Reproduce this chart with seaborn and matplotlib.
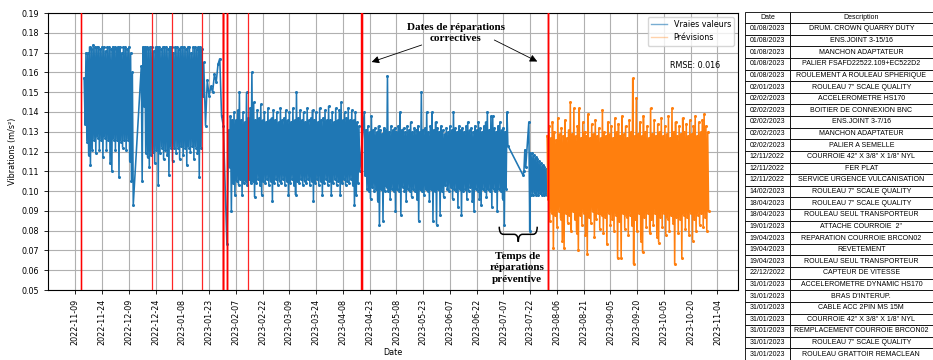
import numpy as np
import pandas as pd
import matplotlib
matplotlib.use("Agg")
import matplotlib.pyplot as plt
import matplotlib.dates as mdates
from matplotlib.lines import Line2D
from matplotlib.path import Path
from matplotlib.patches import PathPatch
from matplotlib import font_manager as fm
import seaborn as sns

# ---------------- data (vibration values in milli m/s^2) -------------
# segments sampled every 12 h (alternating high / low readings of the day)
seg1_start = "2022-11-14"
seg1 = [157, 134, 170, 125, 170, 118, 173, 113, 172, 121, 174, 126, 173, 119, 173, 127,
        173, 121, 172, 126, 173, 117, 173, 127, 171, 121, 173, 126, 173, 114, 172, 110,
        173, 126, 173, 121, 172, 126, 173, 107, 173, 125, 170, 122, 173, 126, 173, 121,
        172, 126, 173, 115, 170, 105, 160, 93]

seg2_start = "2022-12-16"
seg2 = [163, 105, 173, 143, 173, 119, 173, 117, 172, 112, 173, 118, 173, 120, 171, 114,
        173, 121, 173, 103, 173, 119, 172, 122, 173, 116, 173, 121, 173, 118, 172, 108,
        173, 122, 173, 115, 170, 122, 173, 119, 173, 122, 172, 116, 173, 123, 173, 118,
        173, 122, 172, 113, 173, 122, 173, 120, 170, 123, 173, 116, 173, 122, 172, 119,
        173, 107, 173, 122, 172, 148]

seg3_dates = ["2023-01-20", "2023-01-21", "2023-01-22", "2023-01-23", "2023-01-24",
              "2023-01-25", "2023-01-26", "2023-01-27", "2023-01-28", "2023-01-29",
              "2023-01-30", "2023-01-31", "2023-02-02"]
seg3 = [165, 133, 156, 148, 153, 150, 159, 155, 164, 167, 138, 133, 73]

seg4_start = "2023-02-03"
seg4 = [131, 112, 138, 90, 136, 104, 140, 98, 136, 105, 141, 103, 150, 106, 136, 98,
        140, 104, 135, 105, 150, 103, 137, 106, 142, 104, 160, 105, 145, 97, 136, 104,
        141, 106, 137, 103, 144, 98, 136, 105, 140, 104, 135, 106, 142, 103, 136, 105,
        137, 95, 141, 104, 136, 106, 140, 103, 135, 105, 142, 104, 136, 106, 137, 103,
        141, 105, 136, 98, 140, 104, 135, 106, 142, 103, 136, 98, 150, 105, 137, 104,
        141, 106, 136, 103, 140, 105, 135, 104, 142, 106, 136, 103, 137, 105, 141, 95,
        136, 104, 140, 106, 135, 103, 142, 105, 136, 98, 137, 104, 141, 106, 136, 103,
        143, 105, 136, 98, 140, 104, 135, 106, 142, 103, 136, 105, 141, 98, 145, 104,
        136, 106, 140, 103, 137, 105, 142, 104, 136, 106, 141, 103, 136, 93, 140, 98,
        135, 104, 133, 110]

seg5_start = "2023-04-20"
seg5 = [140, 108, 131, 101, 133, 100, 130, 96, 138, 102, 131, 100, 132, 101, 130, 95,
        133, 83, 131, 101, 129, 85, 132, 100, 131, 102, 158, 100, 130, 96, 133, 101,
        131, 100, 132, 90, 130, 101, 133, 100, 140, 88, 131, 102, 132, 100, 130, 95,
        133, 101, 131, 100, 135, 97, 130, 101, 132, 100, 131, 96, 133, 85, 130, 101,
        150, 100, 131, 98, 132, 101, 140, 100, 130, 95, 133, 101, 140, 85, 131, 100,
        135, 83, 132, 101, 130, 88, 133, 100, 131, 97, 129, 103]

seg6_start = "2023-06-05"
seg6 = [132, 101, 130, 100, 133, 102, 131, 96, 140, 101, 132, 100, 130, 92, 133, 101,
        131, 88, 132, 100, 130, 101, 133, 96, 135, 100, 131, 102, 132, 95, 130, 90,
        133, 101, 131, 100, 135, 96, 132, 93, 130, 101, 133, 100, 135, 97, 140, 101,
        131, 100, 138, 92, 138, 101, 132, 100, 130, 90, 133, 101, 135, 100, 131, 96,
        132, 83, 130, 101, 140, 123]

gap_dates = ["2023-07-18 00:00", "2023-07-18 12:00", "2023-07-19 00:00",
             "2023-07-19 12:00", "2023-07-21 06:00", "2023-07-21 18:00"]
gap_vals = [108, 110, 121, 112, 135, 80]

seg7_start = "2023-07-22"
seg7 = [119, 98, 119, 98, 118, 99, 117, 98, 116, 98, 115, 99, 114, 98, 113, 98,
        112, 99, 111, 98]

fc_start = "2023-07-31 12:00"
forecast = [128, 96, 133, 85, 127, 89, 135, 71, 130, 88, 126, 82, 137, 90, 129, 86,
            132, 75, 128, 71, 136, 89, 127, 84, 131, 88, 145, 80, 129, 90, 142, 86,
            128, 79, 133, 70, 142, 88, 127, 83, 135, 89, 130, 78, 128, 68, 139, 87,
            127, 84, 134, 90, 129, 77, 136, 86, 128, 89, 132, 81, 127, 88, 141, 79,
            130, 87, 128, 73, 135, 89, 129, 83, 133, 86, 127, 80, 137, 88, 130, 66,
            134, 85, 128, 66, 138, 89, 129, 81, 133, 87, 127, 78, 136, 88, 130, 83,
            157, 63, 128, 86, 147, 80, 129, 89, 135, 75, 128, 69, 138, 87, 130, 82,
            133, 89, 127, 79, 142, 86, 129, 83, 136, 89, 128, 77, 134, 74, 130, 87,
            137, 82, 128, 89, 133, 78, 129, 86, 138, 80, 127, 88, 142, 84, 130, 63,
            135, 87, 128, 79, 133, 86, 129, 66, 137, 88, 130, 81, 134, 87, 128, 78,
            136, 89, 129, 75, 133, 86, 138, 80, 128, 88, 135, 83, 130, 89, 136, 82,
            139, 87, 133, 80, 130, 90]

# repair table
repair_dates = ["01/08/2023", "01/08/2023", "01/08/2023", "01/08/2023", "01/08/2023",
                "02/01/2023", "02/02/2023", "02/02/2023", "02/02/2023", "02/02/2023",
                "02/02/2023", "12/11/2022", "12/11/2022", "12/11/2022", "14/02/2023",
                "18/04/2023", "18/04/2023", "19/01/2023", "19/04/2023", "19/04/2023",
                "19/04/2023", "22/12/2022", "31/01/2023", "31/01/2023", "31/01/2023",
                "31/01/2023", "31/01/2023", "31/01/2023", "31/01/2023"]
repair_desc = ["DRUM. CROWN QUARRY DUTY", "ENS.JOINT 3-15/16", "MANCHON ADAPTATEUR",
               "PALIER FSAFD22522.109+EC522D2", "ROULEMENT A ROULEAU SPHERIQUE",
               "ROULEAU 7\" SCALE QUALITY", "ACCELEROMETRE HS170", "BOITIER DE CONNEXION BNC",
               "ENS.JOINT 3-7/16", "MANCHON ADAPTATEUR", "PALIER A SEMELLE",
               "COURROIE 42\" X 3/8\" X 1/8\" NYL", "FER PLAT", "SERVICE URGENCE VULCANISATION",
               "ROULEAU 7\" SCALE QUALITY", "ROULEAU 7\" SCALE QUALITY",
               "ROULEAU SEUL TRANSPORTEUR", "ATTACHE COURROIE  2\"",
               "REPARATION COURROIE BRCON02", "REVETEMENT", "ROULEAU SEUL TRANSPORTEUR",
               "CAPTEUR DE VITESSE", "ACCELEROMETRE DYNAMIC HS170", "BRAS D'INTERUP.",
               "CABLE ACC 2PIN MS 15M", "COURROIE 42\" X 3/8\" X 1/8\" NYL",
               "REMPLACEMENT COURROIE BRCON02", "ROULEAU 7\" SCALE QUALITY",
               "ROULEAU GRATTOIR REMACLEAN"]

rmse_text = "RMSE: 0.016"
tick_start, tick_end = "2022-11-09", "2023-11-04"

# ---------------- build frames ----------------
def reg(start, vals):
    return pd.DataFrame({"date": pd.date_range(start, periods=len(vals), freq="12h"),
                         "val": np.array(vals) / 1000.0})

def irr(dates, vals):
    return pd.DataFrame({"date": pd.to_datetime(dates), "val": np.array(vals) / 1000.0})

actual = pd.concat([reg(seg1_start, seg1), reg(seg2_start, seg2), irr(seg3_dates, seg3),
                    reg(seg4_start, seg4), reg(seg5_start, seg5), reg(seg6_start, seg6),
                    irr(gap_dates, gap_vals), reg(seg7_start, seg7)], ignore_index=True)
pred = reg(fc_start, forecast)

BLUE = "#1f77b4"
ORANGE = "#ff7f0e"
FS = 5.8

fig = plt.figure(figsize=(9.33, 3.6), dpi=100)
ax = fig.add_axes([48 / 933, 70 / 360, 690 / 933, 277 / 360])

sns.lineplot(data=actual, x="date", y="val", ax=ax, color=BLUE, lw=1.15, marker="o",
             markersize=2.2, markeredgewidth=0, estimator=None, sort=False, legend=False,
             solid_joinstyle="miter")
sns.lineplot(data=pred, x="date", y="val", ax=ax, color=ORANGE, lw=1.15, marker="o",
             markersize=2.2, markeredgewidth=0, estimator=None, sort=False, legend=False,
             solid_joinstyle="miter")

for d in pd.to_datetime(repair_dates, dayfirst=True):
    ax.axvline(d, color="red", lw=0.9, alpha=0.85, zorder=3)

ax.set_ylim(0.05, 0.19)
ax.set_yticks(np.arange(0.05, 0.1901, 0.01))
ax.yaxis.set_major_formatter(matplotlib.ticker.FormatStrFormatter("%.2f"))
ax.set_xlim(pd.Timestamp("2022-10-24 17:00"), pd.Timestamp("2023-11-15 12:00"))
ax.set_xticks(pd.date_range(tick_start, tick_end, freq="15D"))
ax.xaxis.set_major_formatter(mdates.DateFormatter("%Y-%m-%d"))
ax.tick_params(axis="x", labelrotation=90, labelsize=FS, length=3, width=0.6)
ax.tick_params(axis="y", labelsize=FS, length=3, width=0.6)
ax.grid(True, color="#b0b0b0", lw=0.8)
ax.set_axisbelow(True)
ax.set_xlabel("Date", fontsize=FS, labelpad=2)
ax.set_ylabel("Vibrations (m/s²)", fontsize=FS, labelpad=3)
for s in ax.spines.values():
    s.set_linewidth(0.8)

handles = [Line2D([], [], color=BLUE, lw=1, alpha=0.6),
           Line2D([], [], color=ORANGE, lw=1, alpha=0.35)]
ax.legend(handles, ["Vraies valeurs", "Prévisions"], loc="upper right", fontsize=FS,
          framealpha=0.8, borderaxespad=0.5)

ax.text(0.901, 0.812, rmse_text, transform=ax.transAxes, fontsize=FS, va="center", ha="left")

serif = dict(family=["Liberation Serif", "DejaVu Serif"], weight="bold", fontsize=8)
ax.text(0.591, 0.928, "Dates de réparations\ncorrectives", transform=ax.transAxes,
        ha="center", va="center", linespacing=1.2, **serif)
arr = dict(arrowstyle="-|>", color="black", lw=0.6, mutation_scale=11, shrinkA=0, shrinkB=0)
ax.annotate("", xy=(0.469, 0.823), xytext=(0.5416, 0.8845), xycoords="axes fraction",
            textcoords="axes fraction", arrowprops=arr)
ax.annotate("", xy=(0.7091, 0.8249), xytext=(0.6468, 0.9025), xycoords="axes fraction",
            textcoords="axes fraction", arrowprops=arr)

ax.text(0.680, 0.080, "Temps de\nréparations\npréventive", transform=ax.transAxes,
        ha="center", va="center", linespacing=1.4, **serif)
x0, x1, xm = 0.654, 0.709, 0.6816
yt, ym, yb = 0.2285, 0.201, 0.174
dx = 0.006
verts = [(x0, yt), (x0, ym), (x0 + dx, ym), (xm - dx, ym), (xm, ym), (xm, yb),
         (xm, ym), (xm + dx, ym), (x1 - dx, ym), (x1, ym), (x1, yt)]
codes = [Path.MOVETO, Path.CURVE3, Path.CURVE3, Path.LINETO, Path.CURVE3, Path.CURVE3,
         Path.CURVE3, Path.CURVE3, Path.LINETO, Path.CURVE3, Path.CURVE3]
ax.add_patch(PathPatch(Path(verts, codes), transform=ax.transAxes, fill=False,
                       lw=1.1, color="black", clip_on=False, zorder=5))

# ---------------- table ----------------
tfont = fm.FontProperties(family=["Liberation Sans Narrow", "Liberation Sans", "DejaVu Sans"],
                          size=5.0)

tax = fig.add_axes([744.5 / 933, 0.0, 188 / 933, 348.5 / 360])
tax.axis("off")
cells = [[d, t] for d, t in zip(repair_dates, repair_desc)]
tbl = tax.table(cellText=cells, colLabels=["Date", "Description"], cellLoc="center",
                colWidths=[0.243, 0.757], bbox=[0, 0, 1, 1])
tbl.auto_set_font_size(False)
for (r, c), cell in tbl.get_celld().items():
    cell.set_linewidth(0.6)
    cell.get_text().set_fontproperties(tfont)

fig.savefig("out.png", dpi=100)
